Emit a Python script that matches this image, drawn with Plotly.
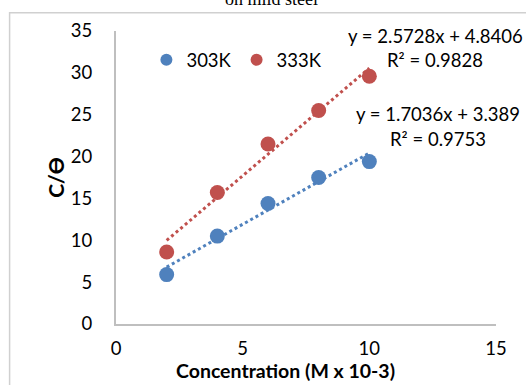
import plotly.graph_objects as go
import numpy as np

conc = [2, 4, 6, 8, 10]
c_theta_303 = [5.9, 10.5, 14.4, 17.5, 19.4]
c_theta_333 = [8.6, 15.7, 21.5, 25.5, 29.6]
series_names = ["303K", "333K"]
fit_303 = (1.7036, 3.389)
fit_333 = (2.5728, 4.8406)
r2_303 = 0.9753
r2_333 = 0.9828
x_ticks = [0, 5, 10, 15]
y_ticks = [0, 5, 10, 15, 20, 25, 30, 35]

BLUE = "#4F81BD"
RED = "#C0504D"
FONT = "Lato"
FS = 18.5

fig = go.Figure()
xs = np.array([conc[0], conc[-1]])
for fit, col in [(fit_303, BLUE), (fit_333, RED)]:
    fig.add_trace(go.Scatter(x=xs, y=fit[0] * xs + fit[1], mode="lines",
                             line=dict(color=col, width=3, dash="dot"),
                             showlegend=False, hoverinfo="skip"))
for vals, col, name in [(c_theta_303, BLUE, series_names[0]),
                        (c_theta_333, RED, series_names[1])]:
    fig.add_trace(go.Scatter(x=conc, y=vals, mode="markers", name=name,
                             marker=dict(color=col, size=15)))

def ann(text, x, y):
    fig.add_annotation(x=x, y=y, xref="x", yref="y", text=text, showarrow=False,
                       xanchor="center", yanchor="middle",
                       font=dict(family=FONT, size=FS, color="#000000"))

ann(f"y = {fit_333[0]}x + {fit_333[1]}", 12.6, 34.4)
ann(f"R² = {r2_333}", 12.6, 31.5)
ann(f"y = {fit_303[0]}x + {fit_303[1]}", 12.7, 25.1)
ann(f"R² = {r2_303}", 12.7, 22.1)

# cut-off chart title
fig.add_annotation(x=0.408, y=1.0, xref="paper", yref="paper", yshift=20,
                   text="on mild steel", showarrow=False, yanchor="bottom",
                   font=dict(family="Liberation Serif", size=18, color="#000000"))

# x-axis title
fig.add_annotation(x=0.445, y=-0.158, xref="paper", yref="paper",
                   text="<b>Concentration (M x 10-3)</b>", showarrow=False,
                   xanchor="center", yanchor="middle",
                   font=dict(family=FONT, size=19.5, color="#000000"))

fig.add_shape(type="rect", xref="paper", yref="paper", x0=-0.28, y0=-0.5, x1=1.5, y1=1.062,
              line=dict(color="#d0d0d0", width=1.5), layer="below")

fig.update_layout(
    width=526, height=385,
    margin=dict(l=116, r=30, t=31, b=61),
    paper_bgcolor="white", plot_bgcolor="white",
    font=dict(family=FONT, size=FS, color="#000000"),
    showlegend=True,
    legend=dict(orientation="h", x=0.08, y=0.965, xanchor="left", yanchor="top",
                bgcolor="rgba(0,0,0,0)", font=dict(size=FS), itemsizing="constant",
                tracegroupgap=0),
    xaxis=dict(range=[0, 15], tickvals=x_ticks, showgrid=False, zeroline=False,
               showline=True, linecolor="#bfbfbf", linewidth=2, ticks="",
               ticklabelstandoff=7),
    yaxis=dict(range=[0, 35], tickvals=y_ticks, showgrid=False, zeroline=False,
               showline=True, linecolor="#bfbfbf", linewidth=2, ticks="",
               ticklabelstandoff=18,
               title=dict(text="<b>C/ϴ</b>", font=dict(size=21), standoff=0)),
)
fig.write_html("out.html")
